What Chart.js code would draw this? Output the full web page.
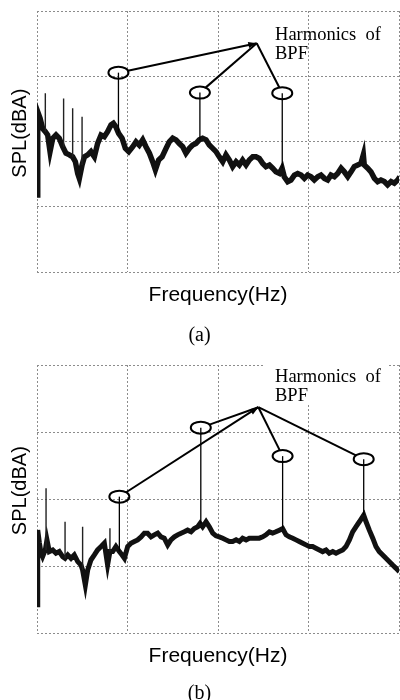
<!DOCTYPE html>
<html>
<head>
<meta charset="utf-8">
<script src="https://cdn.jsdelivr.net/npm/chart.js@4.4.1/dist/chart.umd.min.js"></script>
<style>
  html, body { margin: 0; padding: 0; background: #fff; width: 400px; height: 700px; overflow: hidden; }
  canvas { display: block; }
</style>
</head>
<body>
<canvas id="chartA" width="400" height="350"></canvas>
<canvas id="chartB" width="400" height="356"></canvas>
<script>
// (a) spectrum (frequency in Hz, SPL in dBA)
const freqA = [0, 4, 17, 31, 46, 59, 72, 87, 105, 123,
  142, 160, 179, 197, 212, 225, 234, 249, 262, 280,
  298, 317, 335, 354, 372, 390, 409, 422, 436, 451,
  470, 488, 507, 529, 547, 565, 584, 602, 621, 639,
  654, 672, 691, 713, 731, 750, 768, 786, 805, 823,
  842, 860, 878, 897, 915, 934, 952, 971, 989, 1007,
  1026, 1044, 1063, 1081, 1100, 1118, 1136, 1155, 1173, 1192,
  1210, 1228, 1247, 1265, 1284, 1302, 1320, 1339, 1354, 1366,
  1385, 1403, 1422, 1440, 1459, 1477, 1495, 1514, 1532, 1551,
  1569, 1588, 1606, 1624, 1643, 1661, 1680, 1698, 1717, 1735,
  1753, 1772, 1790, 1803, 1808, 1827, 1845, 1864, 1882, 1900,
  1919, 1937, 1956, 1974, 1993, 2005];
const splA = [23.6, 49.1, 47.1, 44.0, 43.0, 42.0, 36.9, 41.0, 42.0, 41.0,
  38.4, 36.4, 35.9, 35.3, 33.8, 30.2, 28.7, 32.8, 35.3, 35.9,
  36.9, 35.3, 39.4, 42.0, 41.5, 43.0, 45.1, 45.6, 44.5, 42.5,
  41.0, 37.9, 36.9, 38.4, 39.9, 38.9, 40.5, 38.4, 36.4, 33.8,
  31.3, 34.3, 35.3, 37.9, 39.9, 41.0, 40.5, 39.4, 38.4, 36.4,
  37.9, 38.9, 39.4, 40.5, 41.0, 40.5, 38.9, 37.9, 36.9, 35.3,
  33.8, 35.9, 34.3, 32.3, 33.8, 32.8, 34.3, 32.8, 34.3, 35.3,
  35.3, 34.8, 33.3, 32.3, 32.8, 31.8, 30.7, 30.2, 31.8, 29.2,
  27.7, 28.2, 29.7, 30.2, 29.7, 28.7, 29.7, 29.2, 28.2, 29.2,
  29.7, 28.7, 28.2, 29.7, 29.2, 30.2, 31.8, 30.7, 29.2, 30.7,
  32.3, 32.8, 33.3, 35.9, 32.8, 31.8, 30.7, 28.7, 27.7, 28.2,
  27.7, 26.7, 27.7, 27.2, 28.2, 29.2];
const spikeFreqA = [46, 147, 197, 249];
const spikeTopA = [54.8, 53.2, 50.2, 47.6];
const harmFreqA = [450, 900, 1355];
const ovalLevelA = [61.1, 55.0, 54.8];
const apexA = [1214, 70.1];
const noteAtA = [1315, 71.1];

// (b) spectrum
const freqB = [0, 4, 13, 22, 31, 46, 55, 68, 87, 105,
  123, 142, 155, 170, 188, 206, 225, 243, 252, 267,
  280, 298, 317, 335, 354, 372, 390, 403, 418, 436,
  455, 470, 483, 501, 519, 538, 556, 575, 593, 611,
  630, 648, 667, 685, 703, 722, 740, 759, 777, 796,
  814, 832, 851, 869, 888, 901, 915, 934, 952, 971,
  989, 1007, 1026, 1044, 1063, 1081, 1100, 1118, 1136, 1155,
  1173, 1192, 1210, 1228, 1247, 1265, 1284, 1302, 1320, 1339,
  1357, 1376, 1394, 1413, 1431, 1449, 1468, 1486, 1505, 1523,
  1541, 1560, 1578, 1597, 1615, 1634, 1652, 1670, 1689, 1707,
  1726, 1744, 1762, 1781, 1805, 1818, 1836, 1855, 1873, 1891,
  1910, 1928, 1947, 1965, 1984, 2002];
const splB = [8.4, 30.7, 27.0, 24.0, 22.8, 24.8, 27.8, 24.3, 24.8, 23.8,
  24.3, 22.8, 22.3, 23.3, 22.3, 23.3, 21.3, 20.3, 18.8, 14.3,
  18.8, 21.8, 23.3, 24.8, 25.8, 26.8, 20.3, 24.3, 24.3, 25.8,
  24.3, 23.3, 22.3, 25.8, 26.8, 27.3, 27.8, 28.7, 29.8, 29.8,
  28.7, 29.3, 29.8, 28.7, 28.3, 26.3, 27.8, 28.7, 29.3, 29.8,
  30.2, 30.7, 30.2, 31.2, 31.7, 32.7, 31.7, 33.2, 31.7, 29.8,
  29.0, 28.7, 28.3, 27.8, 27.3, 27.3, 27.8, 27.3, 28.3, 27.8,
  28.3, 28.3, 28.3, 28.3, 28.7, 29.3, 30.2, 29.8, 30.2, 30.7,
  31.2, 29.3, 28.7, 28.3, 27.8, 27.3, 26.8, 26.3, 25.8, 25.8,
  25.3, 24.8, 24.3, 24.8, 23.8, 24.3, 23.8, 24.3, 24.8, 25.8,
  27.8, 30.2, 31.7, 33.2, 35.2, 33.2, 30.7, 28.3, 25.8, 24.3,
  23.3, 22.3, 21.3, 20.3, 19.3, 18.3];
const spikeFreqB = [50, 155, 252, 403];
const spikeTopB = [43.2, 33.2, 31.7, 31.3];
const harmFreqB = [455, 905, 1357, 1805];
const ovalLevelB = [40.7, 61.3, 52.8, 51.9];
const apexB = [1223, 67.4];
const noteAtB = [1315, 75.0];

const noteLines = ["Harmonics  of", "BPF"];

function levelAt(freqs, spl, f) {
  let best = 0;
  freqs.forEach((v, i) => {
    if (Math.abs(v - f) < Math.abs(freqs[best] - f)) best = i;
  });
  return spl[best];
}

function spikePoints(freqs, spl, spikeFreqs, spikeTops) {
  const pts = [];
  spikeFreqs.forEach((f, i) => {
    pts.push({ x: f, y: levelAt(freqs, spl, f) });
    pts.push({ x: f, y: spikeTops[i] });
    pts.push({ x: f, y: null });
  });
  return pts;
}

// ovals on the harmonics, stems down to the trace, leader lines to the note
function makeNotes(cfg) {
  return {
    id: "harmonicNotes",
    afterDatasetsDraw(chart) {
      const { ctx, scales: { x, y } } = chart;
      const ax = x.getPixelForValue(cfg.apex[0]);
      const ay = y.getPixelForValue(cfg.apex[1]);
      const rx = 10, ry = 6;
      ctx.save();
      ctx.strokeStyle = "#000";
      ctx.fillStyle = "#000";
      let firstDir = null;
      cfg.harmFreqs.forEach((f, i) => {
        const px = x.getPixelForValue(f);
        const oy = y.getPixelForValue(cfg.ovals[i]);
        const base = y.getPixelForValue(levelAt(cfg.freqs, cfg.spl, f));
        ctx.lineWidth = 1.3;
        ctx.beginPath();
        ctx.moveTo(px, oy);
        ctx.lineTo(px, base);
        ctx.stroke();
        ctx.lineWidth = 2;
        ctx.beginPath();
        ctx.ellipse(px, oy, rx, ry, 0, 0, Math.PI * 2);
        ctx.stroke();
        const ang = Math.atan2(ay - oy, ax - px);
        const c = Math.cos(ang), s = Math.sin(ang);
        const r = 1 / Math.sqrt((c / rx) ** 2 + (s / ry) ** 2);
        ctx.beginPath();
        ctx.moveTo(px + r * c, oy + r * s);
        ctx.lineTo(ax, ay);
        ctx.stroke();
        if (firstDir === null) firstDir = ang;
      });
      // arrow head at the meeting point
      ctx.beginPath();
      ctx.moveTo(ax, ay);
      ctx.lineTo(ax - 9 * Math.cos(firstDir - 0.35), ay - 9 * Math.sin(firstDir - 0.35));
      ctx.lineTo(ax - 9 * Math.cos(firstDir + 0.35), ay - 9 * Math.sin(firstDir + 0.35));
      ctx.closePath();
      ctx.fill();

      const tx = x.getPixelForValue(cfg.noteAt[0]);
      const ty = y.getPixelForValue(cfg.noteAt[1]);
      if (cfg.noteBox) {
        ctx.fillStyle = "#fff";
        ctx.fillRect(tx - 10, ty - 20, 123, 43);
      }
      ctx.fillStyle = "#000";
      ctx.font = "18.5px 'Liberation Serif', serif";
      ctx.textBaseline = "alphabetic";
      ctx.textAlign = "left";
      noteLines.forEach((line, i) => ctx.fillText(line, tx, ty + i * 19));
      ctx.restore();
    },
  };
}

function makeChart(canvasId, cfg) {
  const trace = cfg.freqs.map((f, i) => ({ x: f, y: cfg.spl[i] }));
  const gridStyle = {
    color: "#8c8c8c",
    lineWidth: 1,
    drawTicks: false,
  };
  return new Chart(document.getElementById(canvasId), {
    type: "line",
    data: {
      datasets: [
        {
          label: "spikes",
          data: spikePoints(cfg.freqs, cfg.spl, cfg.spikeFreqs, cfg.spikeTops),
          borderColor: "#222",
          borderWidth: 1.4,
          pointRadius: 0,
          spanGaps: false,
        },
        {
          label: "SPL",
          data: trace,
          borderColor: "#111",
          borderWidth: cfg.traceWidth,
          pointRadius: 0,
          tension: 0,
        },
      ],
    },
    options: {
      responsive: false,
      animation: false,
      events: [],
      layout: { padding: { top: cfg.top, right: 1, left: 0, bottom: 0 } },
      scales: {
        x: {
          type: "linear",
          min: 0,
          max: 2000,
          ticks: { display: false, stepSize: 500 },
          grid: gridStyle,
          border: { display: false, dash: [2, 2] },
          title: {
            display: true,
            text: "Frequency(Hz)",
            color: "#000",
            font: { family: "'Liberation Sans', Arial, sans-serif", size: 21 },
            padding: { top: 0, bottom: cfg.xTitlePad },
          },
          afterFit: (scale) => { scale.height = cfg.xHeight; },
        },
        y: {
          type: "linear",
          min: 0,
          max: 80,
          ticks: { display: false, stepSize: 20 },
          grid: gridStyle,
          border: { display: false, dash: [2, 2] },
          title: {
            display: true,
            // leading spaces nudge the rotated label a little above centre
            text: "   SPL(dBA)",
            color: "#000",
            font: { family: "'Liberation Sans', Arial, sans-serif", size: 20 },
            padding: { top: 8, bottom: 0 },
          },
          afterFit: (scale) => { scale.width = 37; },
        },
      },
      plugins: {
        legend: { display: false },
        tooltip: { enabled: false },
        title: {
          display: true,
          position: "bottom",
          text: cfg.caption,
          color: "#000",
          font: { family: "'Liberation Serif', serif", size: 20, weight: "normal", lineHeight: 1.2 },
          padding: { top: 0, bottom: cfg.captionPad },
        },
      },
    },
    plugins: [makeNotes(cfg)],
  });
}

makeChart("chartA", {
  freqs: freqA, spl: splA, spikeFreqs: spikeFreqA, spikeTops: spikeTopA,
  harmFreqs: harmFreqA, ovals: ovalLevelA, apex: apexA, noteAt: noteAtA, noteBox: false,
  caption: "(a)", top: 11, xHeight: 52, xTitlePad: 16, captionPad: 2, traceWidth: 5.5,
});
makeChart("chartB", {
  freqs: freqB, spl: splB, spikeFreqs: spikeFreqB, spikeTops: spikeTopB,
  harmFreqs: harmFreqB, ovals: ovalLevelB, apex: apexB, noteAt: noteAtB, noteBox: true,
  caption: "(b)", top: 15, xHeight: 49, xTitlePad: 13, captionPad: 0, traceWidth: 5,
});
</script>
</body>
</html>
